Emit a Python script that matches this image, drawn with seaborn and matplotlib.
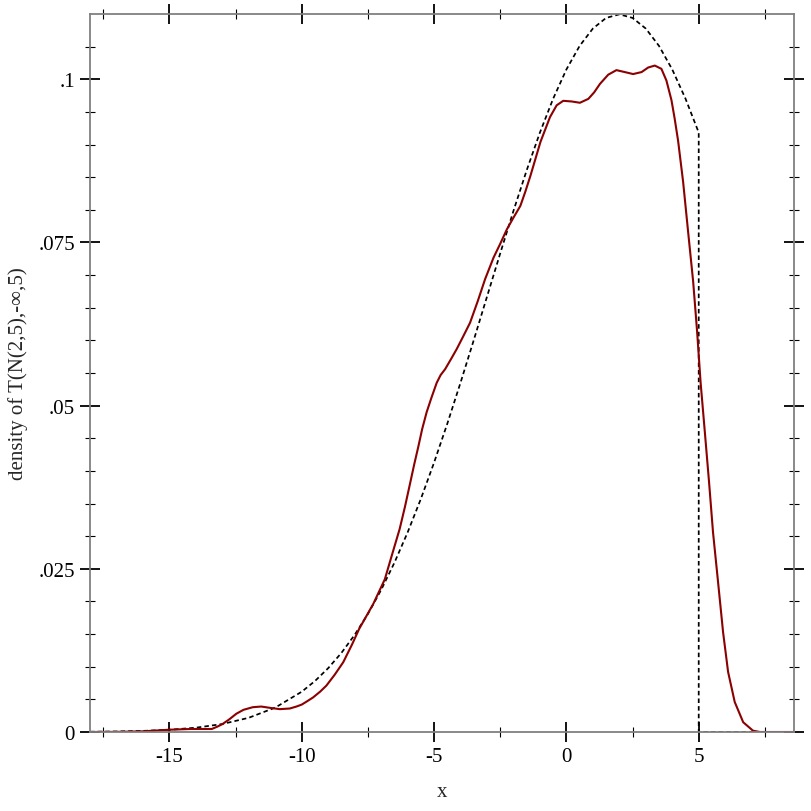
import numpy as np
import pandas as pd
import seaborn as sns
import matplotlib.pyplot as plt

# truncated normal density (dashed)
true_x = [-18, -17, -16, -15, -14, -13, -12, -11, -10, -9.5, -9, -8.5, -8, -7.5,
          -7, -6.5, -6, -5.5, -5, -4.5, -4, -3.5, -3, -2.5, -2, -1.5, -1, -0.5,
          0, 0.5, 1, 1.5, 2, 2.5, 3, 3.5, 4, 4.5, 5, 5, 8.6]
true_y = [0.00004, 0.00008, 0.00017, 0.00034, 0.00066, 0.00122, 0.00218, 0.00374,
          0.00617, 0.00781, 0.00978, 0.01212, 0.01488, 0.01808, 0.02176, 0.02592,
          0.03057, 0.03570, 0.04127, 0.04723, 0.05352, 0.06004, 0.06669, 0.07333,
          0.07984, 0.08606, 0.09184, 0.09703, 0.10150, 0.10511, 0.10777, 0.10940,
          0.10995, 0.10940, 0.10777, 0.10511, 0.10150, 0.09703, 0.09184, 0.0, 0.0]

# kernel density estimate of the samples (solid red)
kde_x = [-18, -17, -16, -15, -14.2, -13.4, -13.2, -13.0, -12.75, -12.47, -12.2,
         -11.85, -11.53, -11.2, -10.83, -10.45, -10.2, -10.0, -9.8, -9.57, -9.3,
         -9.07, -8.75, -8.43, -8.1, -7.83, -7.3, -6.86, -6.6, -6.3, -6.1, -5.9,
         -5.75, -5.59, -5.45, -5.28, -5.1, -4.9, -4.75, -4.58, -4.35, -4.14,
         -3.9, -3.64, -3.35, -3.07, -2.75, -2.5, -2.25, -2.0, -1.74, -1.55,
         -1.36, -1.17, -0.98, -0.62, -0.37, -0.12, 0.2, 0.51, 0.83, 1.05, 1.27,
         1.58, 1.89, 2.21, 2.52, 2.84, 3.09, 3.34, 3.59, 3.78, 3.97, 4.09, 4.22,
         4.41, 4.6, 4.79, 4.94, 5.07, 5.23, 5.39, 5.54, 5.73, 5.92, 6.11, 6.36,
         6.68, 7.05, 7.31, 8.6]
kde_y = [0.0, 0.00002, 0.0001, 0.00035, 0.00046, 0.00046, 0.0008, 0.0012, 0.0019,
         0.0028, 0.0034, 0.0038, 0.0039, 0.0037, 0.0035, 0.0036, 0.0039, 0.0042,
         0.0047, 0.0053, 0.0062, 0.0071, 0.0088, 0.0107, 0.0134, 0.0158, 0.0196,
         0.0234, 0.0270, 0.0311, 0.0345, 0.0382, 0.0410, 0.0438, 0.0464, 0.0490,
         0.0512, 0.0535, 0.0547, 0.0556, 0.0572, 0.0587, 0.0606, 0.0627, 0.0660,
         0.0694, 0.0727, 0.0748, 0.0770, 0.0788, 0.0806, 0.0828, 0.0852, 0.0878,
         0.0904, 0.0942, 0.0960, 0.0967, 0.0966, 0.0964, 0.0970, 0.0980, 0.0993,
         0.1007, 0.1014, 0.1011, 0.1008, 0.1011, 0.1018, 0.1021, 0.1016, 0.0998,
         0.0968, 0.0940, 0.0906, 0.0843, 0.0766, 0.0690, 0.0613, 0.0536, 0.0460,
         0.0383, 0.0306, 0.0230, 0.0153, 0.0092, 0.0046, 0.0015, 0.0002, 0.0, 0.0]

xticks = [-15, -10, -5, 0, 5]
xtick_labels = ["-15", "-10", "-5", "0", "5"]
xminor = [-17.5, -12.5, -7.5, -2.5, 2.5, 7.5]
yticks = [0, 0.025, 0.05, 0.075, 0.1]
ytick_labels = ["0", ".025", ".05", ".075", ".1"]
yminor = [0.005, 0.01, 0.015, 0.02, 0.03, 0.035, 0.04, 0.045, 0.055, 0.06,
          0.065, 0.07, 0.08, 0.085, 0.09, 0.095, 0.105]

sns.set_style("white")
plt.rcParams['font.family'] = ['Liberation Serif', 'DejaVu Serif']
plt.rcParams['font.size'] = 15

true_df = pd.DataFrame({"x": true_x, "density": true_y})
kde_df = pd.DataFrame({"x": kde_x, "density": kde_y})

fig = plt.figure(figsize=(8.12, 8.12), dpi=100)
ax = fig.add_axes([90 / 812, 79 / 812, 704 / 812, 718 / 812])

sns.lineplot(data=true_df, x="x", y="density", ax=ax, color="black",
             linewidth=1.25, linestyle=(0, (2.6, 1.8)), estimator=None, sort=False)
sns.lineplot(data=kde_df, x="x", y="density", ax=ax, color="#8b0000",
             linewidth=1.5, estimator=None, sort=False)

ax.set_xlim(-18, 8.6)
ax.set_ylim(0, 0.1100)

ax.set_xticks(xticks)
ax.set_xticklabels(xtick_labels)
ax.set_xticks(xminor, minor=True)
ax.set_yticks(yticks)
ax.set_yticklabels(ytick_labels)
ax.set_yticks(yminor, minor=True)

ax.tick_params(which="both", direction="inout", left=True, bottom=True,
               top=True, right=True, labeltop=False, labelright=False,
               colors="black", labelsize=15)
ax.tick_params(which="major", length=14.4, width=1.3, pad=3.6)
ax.tick_params(which="minor", length=7.2, width=0.8)

for s in ax.spines.values():
    s.set_color("#808080")
    s.set_linewidth(1.3)

ax.set_xlabel("x", fontsize=15)
ax.set_ylabel("density of T(N(2,5),-∞,5)", fontsize=15)
ax.xaxis.set_label_coords(0.5, (733 - 793) / 718)
ax.xaxis.label.set_va("center")
ax.yaxis.set_label_coords((18 - 90) / 704, 0.5)
ax.yaxis.label.set_va("center")

fig.savefig("out.png", dpi=100, facecolor="white")
